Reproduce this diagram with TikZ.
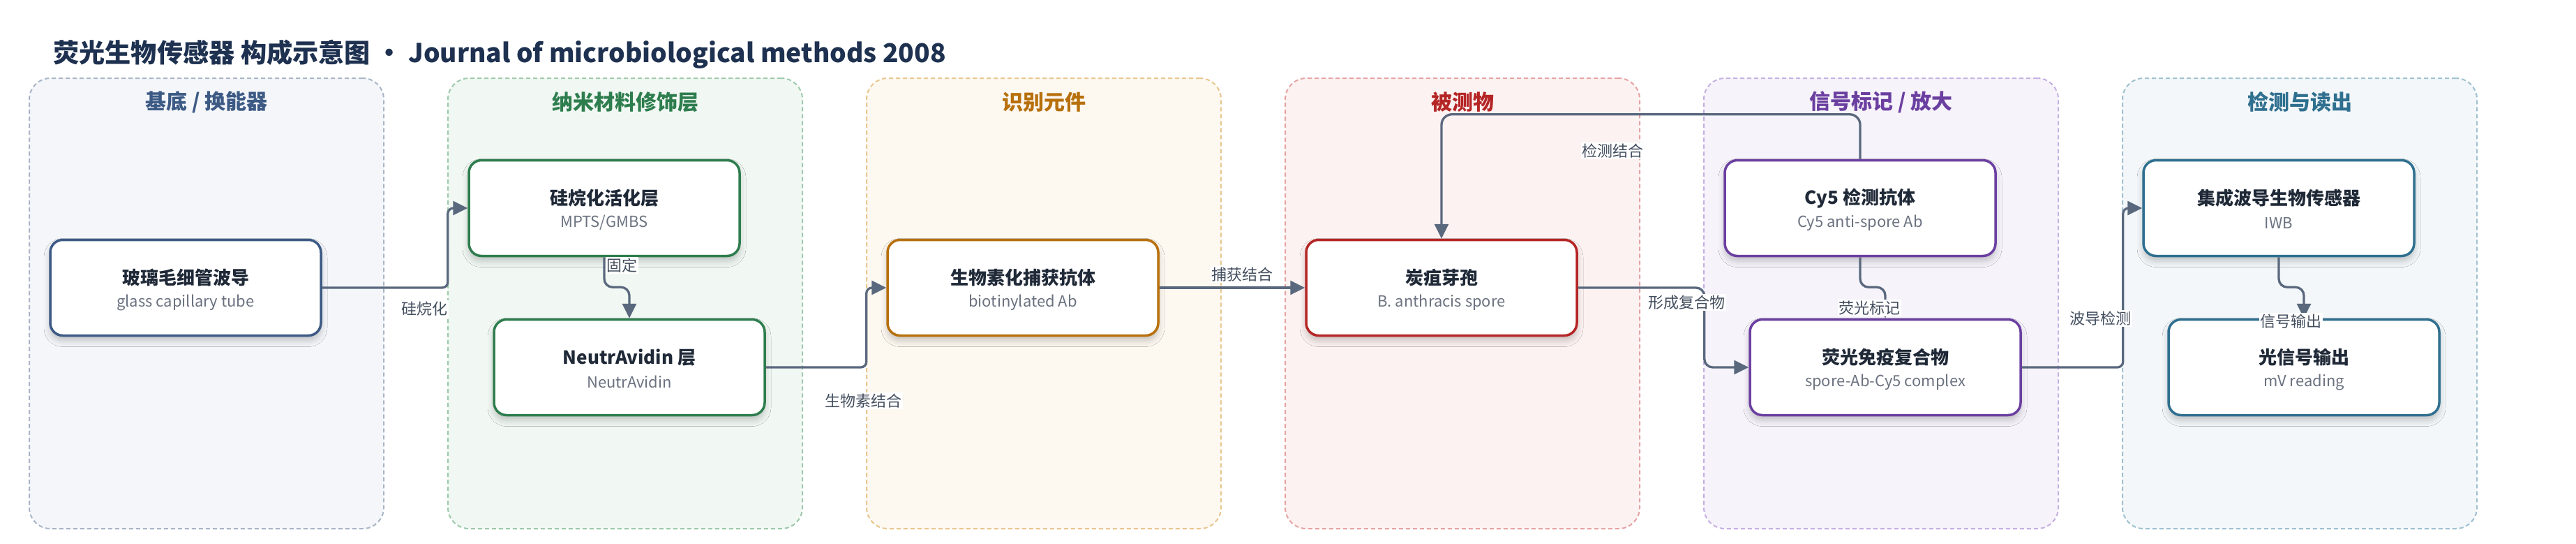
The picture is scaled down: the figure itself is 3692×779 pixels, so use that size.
\documentclass[tikz,border=0pt]{standalone}
\usepackage{fontspec}
\setmainfont{Noto Sans CJK SC}
\usetikzlibrary{arrows.meta,shadows.blur}
\definecolor{c1}{HTML}{3C5A84}
\definecolor{c2}{HTML}{2E7D4E}
\definecolor{c3}{HTML}{B7700C}
\definecolor{c4}{HTML}{B52525}
\definecolor{c5}{HTML}{6B3FA0}
\definecolor{c6}{HTML}{2F6F8F}
\definecolor{f1}{HTML}{F4F6FA}
\definecolor{f2}{HTML}{F1F8F3}
\definecolor{f3}{HTML}{FDF8F0}
\definecolor{f4}{HTML}{FDF2F2}
\definecolor{f5}{HTML}{F6F3FB}
\definecolor{f6}{HTML}{F3F7F9}
\definecolor{d1}{HTML}{A9B6C7}
\definecolor{d2}{HTML}{9DCAAB}
\definecolor{d3}{HTML}{E9C690}
\definecolor{d4}{HTML}{E6A3A3}
\definecolor{d5}{HTML}{C6B0E3}
\definecolor{d6}{HTML}{9FC1D0}
\definecolor{cconn}{HTML}{5A687E}
\definecolor{clbl}{HTML}{434E5E}
\definecolor{cttl}{HTML}{1F2937}
\definecolor{csub}{HTML}{6B7280}
\definecolor{ctitle}{HTML}{1E3150}
\begin{document}
\begin{tikzpicture}[x=1pt,y=-1pt,
  pnl/.style 2 args={draw=#1, fill=#2, line width=2pt, dash pattern=on 6pt off 4pt,
    rounded corners=30pt, minimum width=508pt, minimum height=645pt, inner sep=0pt},
  ptitle/.style={font=\bfseries\fontsize{30}{34}\selectfont, text=#1},
  nbox/.style={draw=#1, line width=3.5pt, rounded corners=18pt, fill=white,
    minimum width=388pt, minimum height=137pt, inner sep=0pt,
    blur shadow={shadow xshift=0pt, shadow yshift=-7pt, shadow blur radius=9pt, shadow opacity=22}},
  ttl/.style={font=\bfseries\fontsize{26}{30}\selectfont, text=cttl, yshift=14pt},
  sub/.style={font=\fontsize{22}{26}\selectfont, text=csub, yshift=-21pt},
  conn/.style={draw=cconn, line width=3.3pt, rounded corners=12pt, -{Triangle[length=21pt,width=20pt]}},
  sconn/.style={conn, rounded corners=8pt},
  lbl/.style={fill=white, inner sep=1.5pt, font=\fontsize{22}{26}\selectfont, text=clbl}
]
\useasboundingbox (0,0) rectangle (3692,779);
\fill[white] (0,0) rectangle (3692,779);

% title
\node[anchor=base west, inner sep=0pt, font=\bfseries\fontsize{37.2}{44}\selectfont, text=ctitle] (title) at (76,89)
  {荧光生物传感器 构成示意图 • Journal of microbiological methods 2008};

% panels
\node[pnl={d1}{f1}] (p1) at (296,434.5) {};
\node[pnl={d2}{f2}] (p2) at (896,434.5) {};
\node[pnl={d3}{f3}] (p3) at (1496,434.5) {};
\node[pnl={d4}{f4}] (p4) at (2096,434.5) {};
\node[pnl={d5}{f5}] (p5) at (2696,434.5) {};
\node[pnl={d6}{f6}] (p6) at (3296,434.5) {};
\node[ptitle=c1] (p1t) at (296,146) {基底 / 换能器};
\node[ptitle=c2] (p2t) at (896,146) {纳米材料修饰层};
\node[ptitle=c3] (p3t) at (1496,146) {识别元件};
\node[ptitle=c4] (p4t) at (2096,146) {被测物};
\node[ptitle=c5] (p5t) at (2696,146) {信号标记 / 放大};
\node[ptitle=c6] (p6t) at (3296,146) {检测与读出};

% boxes
\node[nbox=c1] (glass) at (266,412) {};
\node[nbox=c2] (s1) at (866,298) {};
\node[nbox=c2] (na) at (902,526) {};
\node[nbox=c3] (ab) at (1466,412) {};
\node[nbox=c4] (spore) at (2066,412) {};
\node[nbox=c5] (cy5) at (2666,298) {};
\node[nbox=c5] (cx) at (2702,526) {};
\node[nbox=c6] (iwb) at (3266,298) {};
\node[nbox=c6] (out) at (3302,526) {};

\node[ttl] (glass-t) at (glass) {玻璃毛细管波导};
\node[sub] (glass-s) at (glass) {glass capillary tube};
\node[ttl] (s1-t) at (s1) {硅烷化活化层};
\node[sub] (s1-s) at (s1) {MPTS/GMBS};
\node[ttl] (na-t) at (na) {NeutrAvidin 层};
\node[sub] (na-s) at (na) {NeutrAvidin};
\node[ttl] (ab-t) at (ab) {生物素化捕获抗体};
\node[sub] (ab-s) at (ab) {biotinylated Ab};
\node[ttl] (spore-t) at (spore) {炭疽芽孢};
\node[sub] (spore-s) at (spore) {B. anthracis spore};
\node[ttl] (cy5-t) at (cy5) {Cy5 检测抗体};
\node[sub] (cy5-s) at (cy5) {Cy5 anti-spore Ab};
\node[ttl] (cx-t) at (cx) {荧光免疫复合物};
\node[sub] (cx-s) at (cx) {spore-Ab-Cy5 complex};
\node[ttl] (iwb-t) at (iwb) {集成波导生物传感器};
\node[sub] (iwb-s) at (iwb) {IWB};
\node[ttl] (out-t) at (out) {光信号输出};
\node[sub] (out-s) at (out) {mV reading};

% connectors
\draw[sconn] (glass.east) -- ++(180,0) |- (s1.west);
\draw[conn] (s1.south) -- ++(0,43) -| (na.north);
\draw[sconn] (na.east) -- ++(144,0) |- (ab.west);
\draw[conn] (ab.east) -- (spore.west);
\draw[conn] (spore.east) -- ++(181,0) |- (cx.west);
\draw[conn, rounded corners=15pt] (cy5.north) -- ++(0,-64) -| (spore.north);
\draw[conn] (cy5.south) -- ++(0,43) -| (cx.north);
\draw[sconn] (cx.east) -- ++(145,0) |- (iwb.west);
\draw[conn] (iwb.south) -- ++(0,43) -| (out.north);

% labels
\node[lbl] (l1) at (608,442) {硅烷化};
\node[lbl] (l2) at (891,380) {固定};
\node[lbl] (l3) at (1237,574) {生物素结合};
\node[lbl] (l4) at (1780,393) {捕获结合};
\node[lbl] (l5) at (2417,433) {形成复合物};
\node[lbl] (l6) at (2311,216) {检测结合};
\node[lbl] (l7) at (2679,441) {荧光标记};
\node[lbl] (l8) at (3010,456) {波导检测};
\node[lbl] (l9) at (3283,460) {信号输出};
\end{tikzpicture}
\end{document}
